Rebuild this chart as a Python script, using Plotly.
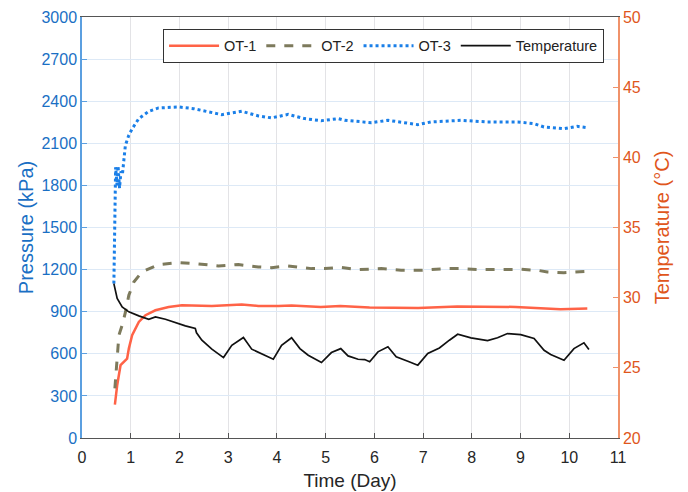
import plotly.graph_objects as go

# ---- data ----
ot1_day = [0.675, 0.722, 0.791, 0.859, 0.926, 0.961, 1.029, 1.166, 1.303, 1.507, 1.779, 2.051, 2.325,
           2.665, 3.278, 3.62, 4.03, 4.3, 4.9, 5.3, 5.9, 6.9, 7.7, 8.9, 9.82, 10.37]
ot1_kpa = [238, 376, 519, 543, 566, 637, 732, 827, 875, 910, 934, 946, 946,
           941, 951, 941, 941, 945, 934, 941, 930, 927, 937, 934, 918, 922]

ot2_day = [0.675, 0.722, 0.757, 0.824, 0.894, 0.961, 1.063, 1.233, 1.575, 1.984, 2.325, 2.80, 3.21, 3.62,
           3.89, 4.23, 4.71, 4.98, 5.32, 5.66, 6.14, 6.55, 6.96, 7.44, 7.78, 8.19, 8.60, 9.01, 9.35,
           9.55, 9.89, 10.37]
ot2_kpa = [353, 544, 732, 803, 900, 1017, 1112, 1184, 1236, 1250, 1243, 1226, 1236, 1219,
           1214, 1226, 1207, 1207, 1216, 1200, 1207, 1195, 1195, 1207, 1207, 1200, 1202, 1202, 1195,
           1183, 1178, 1188]

ot3_day = [0.654, 0.665, 0.675, 0.69, 0.72, 0.74, 0.77, 0.80, 0.83, 0.89, 0.96, 1.03, 1.166, 1.37, 1.57,
           1.98, 2.29, 2.60, 2.87, 3.28, 3.62, 3.89, 4.23, 4.57, 4.91, 5.26, 5.39, 5.94, 6.28, 6.89,
           7.16, 7.78, 8.32, 8.94, 9.28, 9.48, 9.89, 10.16, 10.37]
ot3_kpa = [1100, 1500, 1800, 1930, 1800, 1940, 1780, 1900, 1880, 2085, 2157, 2204, 2276, 2328, 2352,
           2359, 2347, 2323, 2304, 2328, 2295, 2281, 2306, 2276, 2261, 2276, 2264, 2247, 2264, 2233,
           2252, 2264, 2252, 2252, 2240, 2216, 2204, 2221, 2211]

temp_day = [0.654, 0.722, 0.824, 0.961, 1.166, 1.370, 1.507, 1.712, 2.121, 2.325, 2.35, 2.460, 2.665,
            2.904, 3.074, 3.313, 3.483, 3.757, 3.926, 4.096, 4.301, 4.472, 4.642, 4.914, 5.119, 5.311,
            5.460, 5.665, 5.802, 5.904, 6.074, 6.278, 6.448, 6.687, 6.892, 7.096, 7.335, 7.540, 7.710,
            7.982, 8.323, 8.528, 8.732, 9.004, 9.278, 9.483, 9.618, 9.892, 10.096, 10.301, 10.403]
temp_c = [31.0, 29.94, 29.34, 28.99, 28.70, 28.46, 28.63, 28.46, 27.99, 27.80, 27.5, 26.97, 26.33,
          25.73, 26.6, 27.16, 26.33, 25.9, 25.61, 26.61, 27.14, 26.37, 25.9, 25.38, 26.09, 26.37,
          25.85, 25.61, 25.59, 25.43, 26.14, 26.5, 25.78, 25.47, 25.19, 26.02, 26.42, 26.97, 27.39,
          27.14, 26.94, 27.14, 27.44, 27.37, 27.09, 26.25, 25.95, 25.54, 26.37, 26.78, 26.3]

x_ticks = list(range(0, 12))
p_ticks = list(range(0, 3001, 300))
t_ticks = list(range(20, 51, 5))

FONT = "Liberation Sans, Arial, sans-serif"
BLUE_TXT = "#1a6fc4"
ORANGE_TXT = "#e0561c"

fig = go.Figure()
fig.add_trace(go.Scatter(x=ot1_day, y=ot1_kpa, name="OT-1", mode="lines",
                         line=dict(color="#ff6347", width=2.5)))
fig.add_trace(go.Scatter(x=ot2_day, y=ot2_kpa, name="OT-2", mode="lines",
                         line=dict(color="#7d7a5c", width=3, dash="dash")))
fig.add_trace(go.Scatter(x=ot3_day, y=ot3_kpa, name="OT-3", mode="lines",
                         line=dict(color="#1a7fe8", width=3, dash="dot")))
fig.add_trace(go.Scatter(x=temp_day, y=temp_c, name="Temperature", mode="lines", yaxis="y2",
                         line=dict(color="#111111", width=1.7)))

fig.update_layout(
    width=670, height=483,
    margin=dict(l=74, r=60, t=9, b=53, autoexpand=False),
    paper_bgcolor="white", plot_bgcolor="white",
    font=dict(family=FONT, size=16, color="#262626"),
    showlegend=True,
    legend=dict(orientation="h", x=0.974, xanchor="right", y=0.972, yanchor="top",
                bgcolor="white", bordercolor="#333333", borderwidth=1,
                font=dict(size=14.5, color="#222222"), itemwidth=50,
                traceorder="normal", tracegroupgap=0),
    xaxis=dict(range=[0, 11], tickvals=x_ticks, ticks="inside", ticklen=5,
               tickcolor="#555555", showline=True, linecolor="#555555", linewidth=1,
               mirror=True, showgrid=True, gridcolor="#e3e3e6", zeroline=False,
               automargin=False, ticklabelstandoff=5,
               title=dict(text="Time (Day)", font=dict(size=19, color="#262626"), standoff=14),
               tickfont=dict(size=16, color="#262626")),
    yaxis=dict(range=[0, 3000], tickvals=p_ticks, ticks="inside", ticklen=5,
               tickcolor="#5b9fe0", showline=True, linecolor="#5b9fe0", linewidth=1.5,
               showgrid=True, gridcolor="#dde9f6", zeroline=False, automargin=False,
               title=dict(text="Pressure (kPa)", font=dict(size=20, color=BLUE_TXT), standoff=2),
               tickfont=dict(size=16, color=BLUE_TXT)),
    yaxis2=dict(range=[20, 50], tickvals=t_ticks, ticks="inside", ticklen=5,
                tickcolor="#f0926a", showline=True, linecolor="#f0926a", linewidth=1.5,
                overlaying="y", side="right", showgrid=False, zeroline=False, automargin=False,
                title=dict(text="Temperature (°C)", font=dict(size=20, color=ORANGE_TXT), standoff=15),
                tickfont=dict(size=16, color=ORANGE_TXT)),
)

fig.write_html("out.html")
